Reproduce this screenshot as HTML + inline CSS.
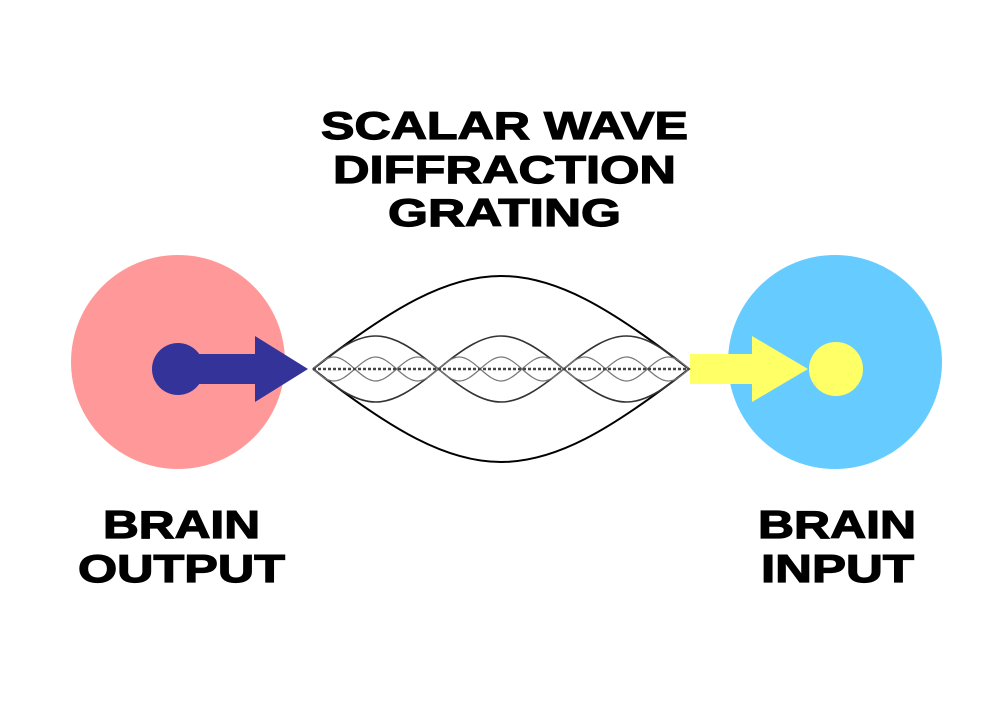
<!DOCTYPE html>
<html><head><style>html,body{margin:0;padding:0;background:#fff}</style></head>
<body>
<svg width="1000" height="700" viewBox="0 0 1000 700" xmlns="http://www.w3.org/2000/svg">
<rect width="1000" height="700" fill="#fff"/>
<circle cx="178" cy="362" r="107" fill="#ff9999"/>
<circle cx="835" cy="362" r="107" fill="#66ccff"/>
<circle cx="178" cy="369" r="26" fill="#333399"/>
<polygon points="178,354 255,354 255,336 308,369 255,402 255,384 178,384" fill="#333399"/>
<polygon points="690,354 752,354 752,336 808,369 752,402 752,384 690,384" fill="#ffff66"/>
<circle cx="836" cy="369" r="27" fill="#ffff66"/>
<g fill="none" stroke="#000">
<path d="M313,369 C472.4,245 529.6,245 689,369 C529.6,493 472.4,493 313,369" stroke-width="2"/>
<g stroke-width="1.6" stroke="#333">
<path d="M313,369 C366.2,325 385.1,325 438.3,369 C491.5,413 510.5,413 563.7,369 C616.9,325 635.8,325 689,369"/>
<path d="M313,369 C366.2,413 385.1,413 438.3,369 C491.5,325 510.5,325 563.7,369 C616.9,413 635.8,413 689,369"/>
</g>
<g stroke-width="1.2" stroke="#777" id="h9">
<path d="M313,369 c17.7,-16 24.1,-16 41.8,0 c17.7,16 24.1,16 41.8,0 c17.7,-16 24.1,-16 41.8,0 c17.7,16 24.1,16 41.8,0 c17.7,-16 24.1,-16 41.8,0 c17.7,16 24.1,16 41.8,0 c17.7,-16 24.1,-16 41.8,0 c17.7,16 24.1,16 41.8,0 c17.7,-16 24.1,-16 41.8,0"/>
<path d="M313,369 c17.7,16 24.1,16 41.8,0 c17.7,-16 24.1,-16 41.8,0 c17.7,16 24.1,16 41.8,0 c17.7,-16 24.1,-16 41.8,0 c17.7,16 24.1,16 41.8,0 c17.7,-16 24.1,-16 41.8,0 c17.7,16 24.1,16 41.8,0 c17.7,-16 24.1,-16 41.8,0 c17.7,16 24.1,16 41.8,0"/>
</g>
<line x1="313" y1="369" x2="689" y2="369" stroke="#444" stroke-width="2.5" stroke-dasharray="3,2"/>
</g>
<g font-family="Liberation Sans, Arial, sans-serif" font-weight="bold" font-size="39" fill="#000" stroke="#000" stroke-width="1.2" text-anchor="start">
<text x="321" y="139" textLength="367" lengthAdjust="spacingAndGlyphs">SCALAR WAVE</text>
<text x="333" y="183" textLength="343" lengthAdjust="spacingAndGlyphs">DIFFRACTION</text>
<text x="388" y="226" textLength="233" lengthAdjust="spacingAndGlyphs">GRATING</text>
<text x="103" y="538" textLength="157" lengthAdjust="spacingAndGlyphs">BRAIN</text>
<text x="78" y="582" textLength="207" lengthAdjust="spacingAndGlyphs">OUTPUT</text>
<text x="758" y="538" textLength="158" lengthAdjust="spacingAndGlyphs">BRAIN</text>
<text x="761" y="582" textLength="153" lengthAdjust="spacingAndGlyphs">INPUT</text>
</g>
</svg>
</body></html>
